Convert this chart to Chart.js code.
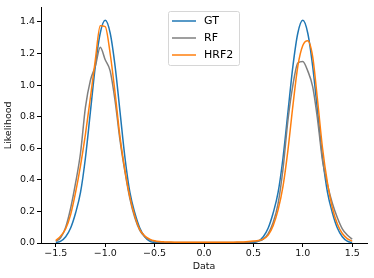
<!DOCTYPE html>
<html>
<head>
<meta charset="utf-8">
<script src="https://cdn.jsdelivr.net/npm/chart.js@4/dist/chart.umd.min.js"></script>
<style>
  html, body { margin: 0; padding: 0; background: #fff; }
  canvas { display: block; }
</style>
</head>
<body>
<canvas id="kdeChart" width="374" height="278"></canvas>
<script>
const xValues = [
  -1.50, -1.45, -1.40, -1.35, -1.30, -1.25, -1.20, -1.15, -1.10, -1.05,
  -1.00, -0.95, -0.90, -0.85, -0.80, -0.75, -0.70, -0.65, -0.60, -0.55,
  -0.50, -0.45, -0.40, -0.35, -0.30, -0.25, -0.20, -0.15, -0.10, -0.05,
  0.00, 0.05, 0.10, 0.15, 0.20, 0.25, 0.30, 0.35, 0.40, 0.45,
  0.50, 0.55, 0.60, 0.65, 0.70, 0.75, 0.80, 0.85, 0.90, 0.95,
  1.00, 1.05, 1.10, 1.15, 1.20, 1.25, 1.30, 1.35, 1.40, 1.45,
  1.50
];

const gtValues = [
  0.003, 0.012, 0.040, 0.095, 0.190, 0.320, 0.540, 0.830, 1.120, 1.330,
  1.410, 1.330, 1.120, 0.830, 0.540, 0.320, 0.190, 0.095, 0.040, 0.012,
  0.003, 0.001, 0.001, 0.001, 0.001, 0.001, 0.001, 0.001, 0.001, 0.001,
  0.001, 0.001, 0.001, 0.001, 0.001, 0.001, 0.001, 0.001, 0.001, 0.001,
  0.003, 0.012, 0.040, 0.095, 0.190, 0.320, 0.540, 0.830, 1.120, 1.330,
  1.410, 1.330, 1.120, 0.830, 0.540, 0.320, 0.190, 0.095, 0.040, 0.012,
  0.003
];

const rfValues = [
  0.010, 0.035, 0.100, 0.220, 0.380, 0.570, 0.860, 1.030, 1.120, 1.240,
  1.160, 1.090, 0.900, 0.650, 0.450, 0.280, 0.160, 0.080, 0.040, 0.020,
  0.010, 0.006, 0.003, 0.003, 0.003, 0.003, 0.003, 0.003, 0.003, 0.003,
  0.003, 0.003, 0.003, 0.003, 0.003, 0.003, 0.003, 0.003, 0.003, 0.005,
  0.008, 0.012, 0.025, 0.060, 0.130, 0.250, 0.470, 0.780, 1.000, 1.140,
  1.150, 1.090, 0.990, 0.780, 0.520, 0.370, 0.250, 0.160, 0.090, 0.050,
  0.025
];

const hrf2Values = [
  0.015, 0.045, 0.090, 0.180, 0.320, 0.490, 0.690, 0.920, 1.160, 1.375,
  1.370, 1.200, 0.950, 0.670, 0.460, 0.290, 0.170, 0.085, 0.045, 0.025,
  0.014, 0.009, 0.007, 0.006, 0.005, 0.005, 0.005, 0.005, 0.005, 0.005,
  0.005, 0.005, 0.005, 0.005, 0.005, 0.005, 0.005, 0.006, 0.007, 0.009,
  0.012, 0.016, 0.025, 0.050, 0.110, 0.210, 0.360, 0.590, 0.870, 1.120,
  1.250, 1.280, 1.180, 0.900, 0.600, 0.380, 0.220, 0.120, 0.060, 0.028,
  0.012
];

const seriesLabels = ['GT', 'RF', 'HRF2'];
const seriesColors = ['#1f77b4', '#7f7f7f', '#ff7f0e'];
const xTicks = [-1.5, -1.0, -0.5, 0.0, 0.5, 1.0, 1.5];
const yTicks = [0.0, 0.2, 0.4, 0.6, 0.8, 1.0, 1.2, 1.4];

function toPoints(ys) {
  return xValues.map((x, i) => ({ x: x, y: ys[i] }));
}

function fmtTick(v) {
  if (Math.abs(v) < 1e-9) return '0.0';
  return (v < 0 ? '\u2212' : '') + Math.abs(v).toFixed(1);
}

// boxed legend like matplotlib's, drawn on top of the plot
const boxLegend = {
  id: 'boxLegend',
  afterDraw(chart) {
    const ctx = chart.ctx;
    const x0 = 168.5, y0 = 11.5, w = 71, h = 54;
    ctx.save();
    ctx.beginPath();
    ctx.roundRect(x0, y0, w, h, 2);
    ctx.fillStyle = 'rgba(255,255,255,0.8)';
    ctx.fill();
    ctx.strokeStyle = '#d6d6d6';
    ctx.lineWidth = 1;
    ctx.stroke();
    ctx.font = '11px "DejaVu Sans"';
    ctx.textBaseline = 'middle';
    chart.data.datasets.forEach((ds, i) => {
      const y = 21 + i * 17;
      ctx.beginPath();
      ctx.moveTo(172, y);
      ctx.lineTo(196, y);
      ctx.strokeStyle = ds.borderColor;
      ctx.lineWidth = 1.5;
      ctx.stroke();
      ctx.fillStyle = '#000';
      ctx.fillText(ds.label, 204, y + 0.5);
    });
    ctx.restore();
  }
};

const tickFont = { family: 'DejaVu Sans', size: 9.5 };
const titleFont = { family: 'DejaVu Sans', size: 9.5 };

new Chart(document.getElementById('kdeChart'), {
  type: 'line',
  data: {
    datasets: [gtValues, rfValues, hrf2Values].map((vals, i) => ({
      label: seriesLabels[i],
      data: toPoints(vals),
      borderColor: seriesColors[i],
      backgroundColor: seriesColors[i],
      borderWidth: 1.5,
      pointRadius: 0,
      fill: false,
      cubicInterpolationMode: 'monotone',
      order: 2 - i
    }))
  },
  options: {
    responsive: false,
    animation: false,
    layout: { padding: { top: 6, right: 7, left: 0, bottom: 0 } },
    plugins: {
      legend: { display: false },
      tooltip: { enabled: false }
    },
    scales: {
      x: {
        type: 'linear',
        min: -1.65,
        max: 1.65,
        afterFit: s => { s.height = 35; },
        afterBuildTicks: s => { s.ticks = xTicks.map(v => ({ value: v })); },
        ticks: {
          callback: fmtTick,
          color: '#111',
          font: tickFont,
          padding: 1,
          maxRotation: 0
        },
        grid: { drawOnChartArea: false, drawTicks: true, tickLength: 4, color: '#000' },
        border: { display: true, color: '#000', width: 1 },
        title: { display: true, text: 'Data', color: '#111', font: titleFont, padding: { top: 0, bottom: 6 } }
      },
      y: {
        type: 'linear',
        min: 0,
        max: 1.49,
        afterFit: s => { s.width = 41; },
        afterBuildTicks: s => { s.ticks = yTicks.map(v => ({ value: v })); },
        ticks: {
          callback: fmtTick,
          color: '#111',
          font: tickFont,
          padding: 2
        },
        grid: { drawOnChartArea: false, drawTicks: true, tickLength: 4, color: '#000' },
        border: { display: true, color: '#000', width: 1 },
        title: { display: true, text: 'Likelihood', color: '#111', font: titleFont, padding: { top: 3.3, bottom: 0 } }
      }
    }
  },
  plugins: [boxLegend]
});
</script>
</body>
</html>
